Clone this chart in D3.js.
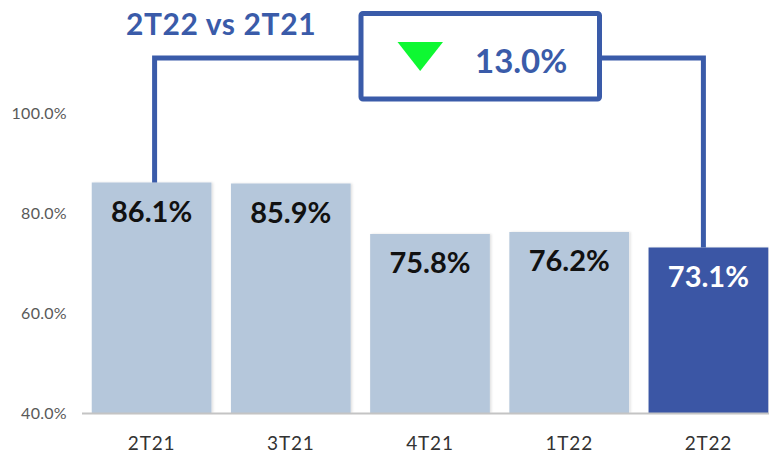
<!DOCTYPE html>
<html>
<head>
<meta charset="utf-8">
<script src="https://cdn.jsdelivr.net/npm/d3@7"></script>
<style>
  html, body { margin: 0; padding: 0; background: #fff; }
  svg { display: block; font-family: Lato, 'Open Sans', sans-serif; }
</style>
</head>
<body>
<div id="graph-container"></div>
<script>

// data
var quarters = ['2T21', '3T21', '4T21', '1T22', '2T22'];
var ratios = [86.1, 85.9, 75.8, 76.2, 73.1];
var y_ticks = [40, 60, 80, 100];
var comparison_title = '2T22 vs 2T21';
var comparison_change = '13.0%';

var w = 769, h = 455;

var light_blue = '#b5c7db';
var dark_blue = '#3a57a5';
var line_blue = '#3a5ba9';

var svg = d3.select('#graph-container').append('svg')
    .attr('width', w).attr('height', h);

var defs = svg.append('defs');
var shadow = defs.append('filter').attr('id', 'soft').attr('x', '-5%').attr('y', '-5%').attr('width', '115%').attr('height', '115%');
shadow.append('feDropShadow').attr('dx', 1.5).attr('dy', 0).attr('stdDeviation', 1.2).attr('flood-color', '#000').attr('flood-opacity', 0.12);

var x = d3.scaleBand().domain(quarters).range([82, 778]).paddingInner(0.14).paddingOuter(0.07);
var y = d3.scaleLinear().domain([40, 100]).range([413, 113]);

// y tick labels (no axis line)
var y_axis = d3.axisLeft(y).tickValues(y_ticks).tickSize(0).tickPadding(0)
    .tickFormat(d => d3.format('.1f')(d) + '%');
var gy = svg.append('g').attr('transform', 'translate(67,0)').call(y_axis);
gy.select('.domain').remove();
gy.selectAll('text')
    .attr('font-family', 'Lato, sans-serif')
    .attr('font-size', 16)
    .attr('letter-spacing', 0.3)
    .attr('fill', '#595959')
    .attr('dy', '0.35em');

// bars
var bars = svg.append('g').selectAll('rect').data(quarters).join('rect')
    .attr('x', d => x(d))
    .attr('width', x.bandwidth())
    .attr('y', (d, i) => y(ratios[i]))
    .attr('height', (d, i) => y(40) - y(ratios[i]))
    .attr('fill', (d, i) => i == quarters.length - 1 ? dark_blue : light_blue)
    .attr('filter', 'url(#soft)');

// baseline
svg.append('line')
    .attr('x1', 82).attr('x2', w)
    .attr('y1', y(40) + 0.5).attr('y2', y(40) + 0.5)
    .attr('stroke', '#c4c4c4').attr('stroke-width', 2);

// value labels
svg.append('g').selectAll('text').data(quarters).join('text')
    .attr('x', d => x(d) + x.bandwidth() / 2)
    .attr('y', (d, i) => y(ratios[i]) + 39)
    .attr('text-anchor', 'middle')
    .attr('font-size', 29)
    .attr('font-weight', 700)
    .attr('fill', (d, i) => i == quarters.length - 1 ? '#fff' : '#111')
    .text((d, i) => ratios[i].toFixed(1) + '%');

// category axis
var x_axis = d3.axisBottom(x).tickSize(0).tickPadding(0);
var gx = svg.append('g').attr('transform', 'translate(0,' + (y(40) + 37) + ')').call(x_axis);
gx.select('.domain').remove();
gx.selectAll('text')
    .attr('font-family', 'Lato, sans-serif')
    .attr('font-size', 19)
    .attr('letter-spacing', 0.8)
    .attr('fill', '#333')
    .attr('dy', 0);

// comparison bracket
var first = quarters[0], last = quarters[quarters.length - 1];
var lx = x(first) + x.bandwidth() / 2 + 3;
var rx = x(last) + x.bandwidth() / 2 - 5;
var bracket_y = 58;
var box = {x0: 361, x1: 599.5, y0: 13.5, y1: 99};

svg.append('path')
    .attr('d', `M${lx},${y(ratios[0])} V${bracket_y} H${box.x0}`)
    .attr('fill', 'none').attr('stroke', line_blue).attr('stroke-width', 5);
svg.append('path')
    .attr('d', `M${box.x1},${bracket_y} H${rx} V${y(ratios[ratios.length - 1])}`)
    .attr('fill', 'none').attr('stroke', line_blue).attr('stroke-width', 5);

svg.append('rect')
    .attr('x', box.x0).attr('y', box.y0)
    .attr('width', box.x1 - box.x0).attr('height', box.y1 - box.y0)
    .attr('rx', 2)
    .attr('fill', '#fff').attr('stroke', line_blue).attr('stroke-width', 5);

// down arrow
svg.append('path')
    .attr('d', 'M397.5,42 L443,42 L420.2,71 Z')
    .attr('fill', '#0ef832');

svg.append('text')
    .attr('x', 475).attr('y', 73)
    .attr('font-size', 33).attr('font-weight', 700)
    .attr('fill', line_blue)
    .text(comparison_change);

svg.append('text')
    .attr('x', 126).attr('y', 35)
    .attr('font-size', 30).attr('font-weight', 700)
    .attr('letter-spacing', 0.6)
    .attr('fill', line_blue)
    .text(comparison_title);

</script>
</body>
</html>
